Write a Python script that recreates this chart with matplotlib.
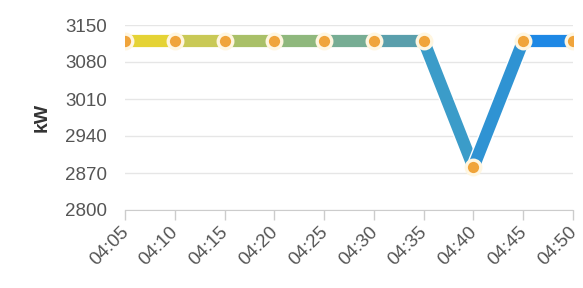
import matplotlib
matplotlib.use("Agg")
import matplotlib.pyplot as plt
import matplotlib.patheffects as pe
from matplotlib.transforms import ScaledTranslation

times = ["04:05", "04:10", "04:15", "04:20", "04:25", "04:30", "04:35", "04:40", "04:45", "04:50"]
values = [3120, 3120, 3120, 3120, 3120, 3120, 3120, 2881, 3120, 3120]
seg_colors = ['#e5d335', '#c9c956', '#a9c068', '#8fb87d', '#77ad94', '#5a9fac', '#3b9cc9', '#2f93d3', '#1e88e5']
yticks = [2800, 2870, 2940, 3010, 3080, 3150]

W, H = 583, 288
fig = plt.figure(figsize=(W / 100, H / 100), dpi=100)
ax = fig.add_axes([125 / W, (H - 210) / H, (573 - 125) / W, (210 - 25) / H])

xs = list(range(len(times)))

for i in range(len(xs) - 1):
    ax.plot(xs[i:i + 2], values[i:i + 2], color=seg_colors[i], lw=8.8,
            solid_capstyle='butt', zorder=3,
            path_effects=[pe.Stroke(linewidth=10.8, foreground='#ffffff'), pe.Normal()])

ax.plot(xs, values, linestyle='none', marker='o', markersize=10.5,
        markerfacecolor='#f0a43a', markeredgecolor='#fff6e0', markeredgewidth=2.4, zorder=5)

ax.set_xlim(0, len(xs) - 1)
ax.set_ylim(2800, 3150)
ax.set_yticks(yticks)
ax.set_xticks(xs)
ax.set_xticklabels(times, rotation=45, ha='right', va='top', rotation_mode='anchor')
ax.grid(axis='y', color='#e6e6e6', lw=1)
ax.set_axisbelow(True)
for s in ['left', 'right', 'top']:
    ax.spines[s].set_visible(False)
ax.spines['bottom'].set_color('#cccccc')
ax.tick_params(axis='y', length=0, pad=13, labelsize=13.5, labelcolor='#555555')
ax.tick_params(axis='x', length=7, width=1, color='#cccccc', pad=3, labelsize=13.5, labelcolor='#555555')
off = ScaledTranslation(-5 / 100, 0, fig.dpi_scale_trans)
for lab in ax.get_xticklabels():
    lab.set_fontfamily('Liberation Sans')
    lab.set_transform(lab.get_transform() + off)
for lab in ax.get_yticklabels():
    lab.set_fontfamily('Liberation Sans')
ax.set_ylabel('kW', fontsize=14, fontweight='bold', color='#333333', family='Liberation Sans', labelpad=10)

fig.savefig('out.png', dpi=100)
